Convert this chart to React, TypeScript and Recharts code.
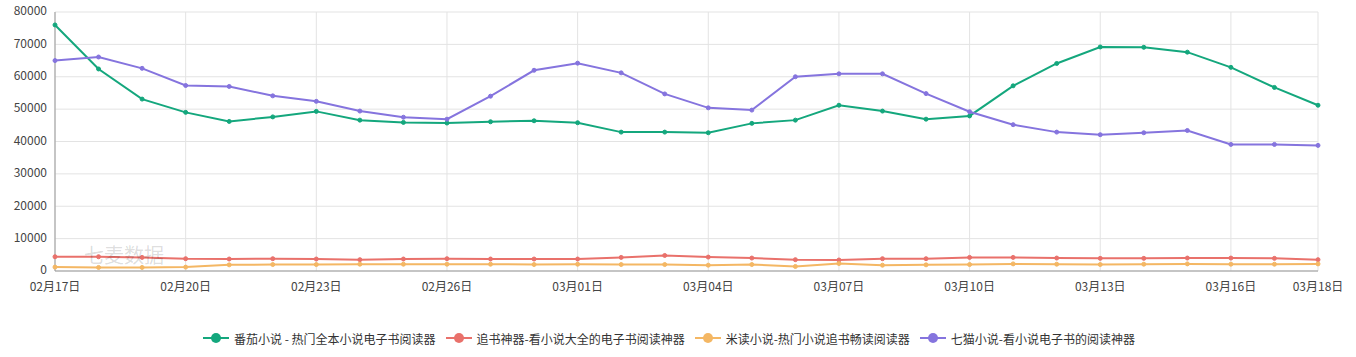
import { LineChart, Line, XAxis, YAxis, CartesianGrid } from 'recharts';

const dates = [
  '02月17日', '02月18日', '02月19日', '02月20日', '02月21日', '02月22日', '02月23日', '02月24日',
  '02月25日', '02月26日', '02月27日', '02月28日', '03月01日', '03月02日', '03月03日', '03月04日',
  '03月05日', '03月06日', '03月07日', '03月08日', '03月09日', '03月10日', '03月11日', '03月12日',
  '03月13日', '03月14日', '03月15日', '03月16日', '03月17日', '03月18日',
];

const fanqie = [
  76000, 62400, 53100, 49000, 46200, 47600, 49300, 46600, 45900, 45700,
  46100, 46400, 45800, 42900, 42900, 42700, 45600, 46600, 51200, 49400,
  46900, 47900, 57200, 64100, 69200, 69100, 67600, 62900, 56700, 51200,
];

const zhuishu = [
  4400, 4400, 4200, 3800, 3700, 3800, 3700, 3500, 3700, 3800,
  3700, 3700, 3700, 4200, 4800, 4300, 4000, 3500, 3400, 3800,
  3800, 4200, 4200, 4000, 3900, 3900, 4000, 4000, 3900, 3500,
];

const midu = [
  1200, 1100, 1100, 1200, 1900, 2000, 2000, 2100, 2100, 2100,
  2100, 2000, 2100, 2000, 2000, 1800, 2000, 1400, 2300, 1800,
  1900, 2000, 2200, 2100, 2000, 2100, 2200, 2100, 2100, 2200,
];

const qimao = [
  65000, 66100, 62600, 57300, 57000, 54100, 52400, 49400, 47500, 46900,
  54000, 62000, 64200, 61200, 54700, 50400, 49700, 60000, 60900, 60900,
  54800, 49200, 45200, 42900, 42100, 42700, 43400, 39100, 39100, 38800,
];

const xTicks = ['02月17日', '02月20日', '02月23日', '02月26日', '03月01日', '03月04日', '03月07日', '03月10日', '03月13日', '03月16日', '03月18日'];
const yTicks = [0, 10000, 20000, 30000, 40000, 50000, 60000, 70000, 80000];

const series = [
  { key: 'fanqie', name: '番茄小说 - 热门全本小说电子书阅读器', color: '#14a77d' },
  { key: 'zhuishu', name: '追书神器-看小说大全的电子书阅读神器', color: '#e9716b' },
  { key: 'midu', name: '米读小说-热门小说追书畅读阅读器', color: '#f4b764' },
  { key: 'qimao', name: '七猫小说-看小说电子书的阅读神器', color: '#8574de' },
];

const data = dates.map((d, i) => ({
  date: d,
  fanqie: fanqie[i],
  zhuishu: zhuishu[i],
  midu: midu[i],
  qimao: qimao[i],
}));

const font = '"Noto Sans CJK SC", "Noto Sans", sans-serif';

export default function App() {
  return (
    <div style={{ position: 'absolute', left: 0, top: 0, width: 1356, height: 357, background: '#fff', fontFamily: font }}>
      <LineChart width={1356} height={300} data={data} margin={{ top: 12, right: 38, bottom: 0, left: 0 }}>
        <CartesianGrid stroke="#e3e3e3" />
        <XAxis
          dataKey="date"
          ticks={xTicks}
          interval={0}
          tickLine={false}
          stroke="#999"
          tick={{ fill: '#444', fontSize: 12, fontFamily: font }}
          height={29}
          tickMargin={5}
        />
        <YAxis
          domain={[0, 80000]}
          ticks={yTicks}
          width={55}
          tickLine={false}
          stroke="#999"
          tick={{ fill: '#444', fontSize: 12, fontFamily: font, dy: -1 }}
        />
        {series.map(s => (
          <Line
            key={s.key}
            type="linear"
            dataKey={s.key}
            name={s.name}
            stroke={s.color}
            strokeWidth={2}
            dot={{ r: 2, fill: s.color, stroke: s.color, strokeWidth: 1 }}
            isAnimationActive={false}
          />
        ))}
      </LineChart>
      <div style={{ position: 'absolute', left: 84, top: 240, fontSize: 20, color: 'rgba(0,0,0,0.15)', pointerEvents: 'none' }}>
        七麦数据
      </div>
      <div style={{ position: 'absolute', left: -9, top: 329, width: 1356, display: 'flex', justifyContent: 'center', fontSize: 12, color: '#333' }}>
        {series.map((s, i) => (
          <div key={s.key} style={{ display: 'flex', alignItems: 'center', marginRight: i < series.length - 1 ? 10 : 0, height: 18 }}>
            <svg width={26} height={12} style={{ marginRight: 5 }}>
              <line x1={0} y1={6} x2={26} y2={6} stroke={s.color} strokeWidth={2} />
              <circle cx={13} cy={6} r={5} fill={s.color} />
            </svg>
            <span>{s.name}</span>
          </div>
        ))}
      </div>
    </div>
  );
}
